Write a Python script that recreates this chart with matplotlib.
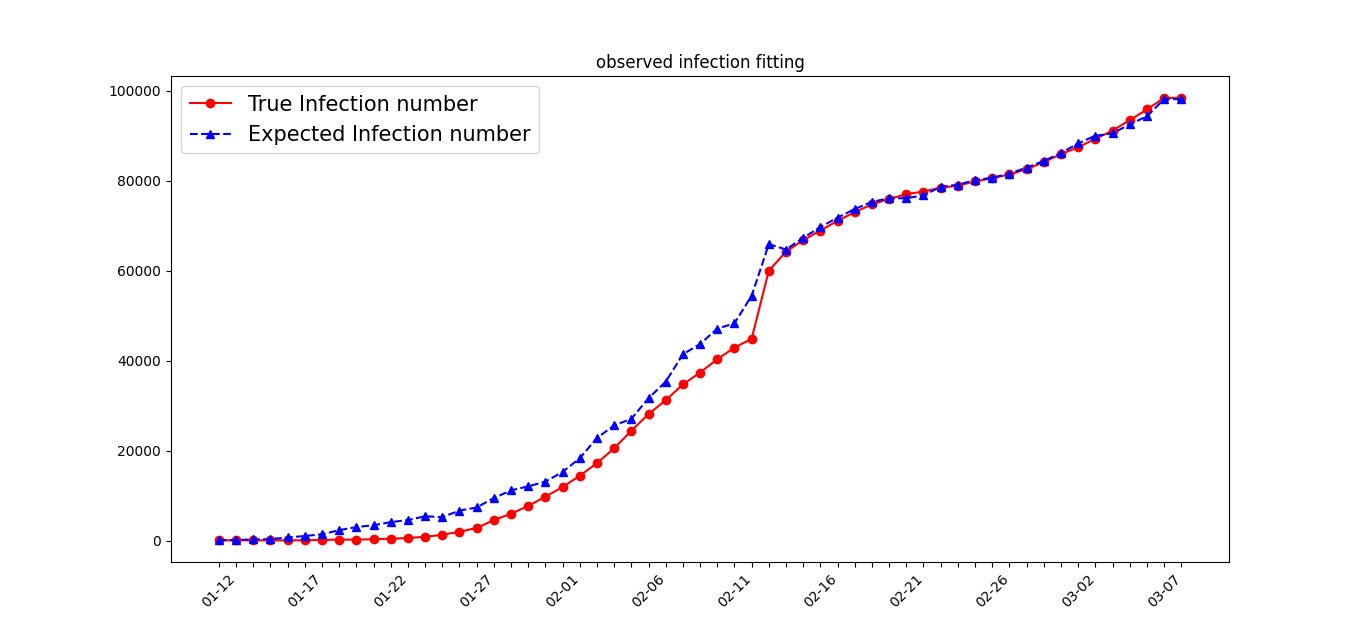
import pandas as pd
import matplotlib
matplotlib.use("Agg")
import matplotlib.pyplot as plt

# daily dates shown on the x axis (01-12 .. 03-08)
dates = pd.date_range("2020-01-12", "2020-03-08").strftime("%m-%d").tolist()

true_infection = [40, 40, 40, 40, 45, 60, 120, 200, 200, 290,
                  400, 560, 830, 1280, 1950, 2800, 4550, 5950, 7700, 9750,
                  11900, 14400, 17200, 20500, 24400, 28100, 31200, 34700, 37350, 40300,
                  42900, 44850, 60000, 64200, 66800, 68900, 71100, 73000, 74750, 75950,
                  77000, 77600, 78450, 78900, 79850, 80550, 81400, 82550, 84150, 85900,
                  87450, 89300, 91150, 93450, 95850, 98400, 98400]

expected_infection = [100, 120, 250, 300, 700, 1000, 1400, 2300, 3000, 3400,
                      4100, 4550, 5400, 5200, 6650, 7350, 9450, 11150, 12050, 13100,
                      15250, 18300, 22800, 25600, 27050, 31650, 35300, 41400, 43700, 47100,
                      48300, 54400, 65900, 64700, 67300, 69700, 71800, 73700, 75300, 76100,
                      76100, 76750, 78650, 79100, 80150, 80650, 81600, 82900, 84400, 86150,
                      88300, 90000, 90500, 92550, 94300, 98150, 98150]

fig, ax = plt.subplots(figsize=(13.66, 6.32), dpi=100)
x = list(range(len(dates)))

ax.plot(x, true_infection, 'r-o', label='True Infection number')
ax.plot(x, expected_infection, 'b--^', label='Expected Infection number')

# tick for every day, label every fifth day
ax.set_xticks(x)
ax.set_xticklabels([d if i % 5 == 0 else '' for i, d in enumerate(dates)], rotation=45)

ax.set_title("observed infection fitting")
ax.legend(loc='upper left', fontsize=15)

fig.savefig("out.png", dpi=100)
